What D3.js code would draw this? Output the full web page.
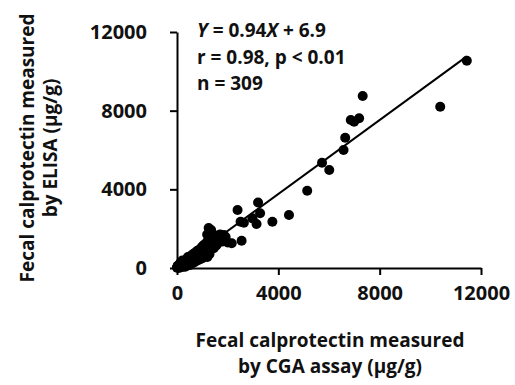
<!DOCTYPE html>
<html>
<head>
<meta charset="utf-8">
<script src="https://cdn.jsdelivr.net/npm/d3@7"></script>
<style>
  body { margin: 0; background: #fff; }
  text { font-family: "Open Sans", Lato, sans-serif; font-weight: bold; fill: #111; }
</style>
</head>
<body>
<svg width="515" height="385"></svg>
<script>
// CGA assay (x) and ELISA (y), ug/g
const cgaValues = [
  0, 15, 25, 40, 50, 60, 75, 85, 95, 110,
  120, 130, 145, 155, 165, 180, 190, 200, 215, 225,
  240, 250, 265, 275, 290, 300, 310, 325, 335, 350,
  360, 375, 385, 400, 410, 425, 435, 450, 460, 475,
  490, 500, 515, 525, 540, 550, 565, 575, 590, 600,
  615, 625, 640, 650, 665, 680, 690, 705, 715, 730,
  740, 755, 770, 780, 795, 810, 820, 835, 850, 860,
  875, 890, 900, 915, 930, 940, 955, 970, 980, 995,
  1010, 1020, 1035, 1050, 1060, 1075, 1090, 1100, 1115, 1130,
  1140, 1155, 1170, 1180, 1195, 1210, 1220, 1235, 1250, 1260,
  1275, 1290, 1300, 1320, 1335, 1350, 1365, 1380, 1400, 1415,
  1430, 1450, 1470, 1490, 1510, 1530, 1550, 1575, 1600, 1625,
  1650, 1680, 1700, 1730, 1760, 1790, 1820, 1850, 1880, 1920,
  30, 80, 140, 210, 280, 350, 430, 520, 610, 700,
  790, 880, 960, 1050, 1120, 1200, 1280, 1346, 1250, 1190,
  1000, 1150, 1320, 1450, 1600, 1720, 860, 660, 480, 1800,
  2000, 2160, 2550, 2510, 2390, 2640, 2980, 3140, 3280, 3200,
  3765, 4420, 5140, 5725, 6010, 6575, 6640, 6860, 6990, 7190,
  7330, 10390, 11440
];
const elisaValues = [
  20, 60, 10, 90, 30, 140, 50, 110, 20, 170,
  60, 200, 100, 40, 230, 130, 260, 70, 190, 300,
  110, 250, 340, 160, 60, 290, 210, 380, 120, 320,
  420, 240, 150, 380, 470, 280, 200, 440, 520, 330,
  240, 560, 410, 300, 500, 620, 370, 250, 560, 460,
  660, 350, 540, 720, 430, 620, 300, 700, 520, 780,
  410, 640, 840, 560, 720, 380, 880, 650, 780, 500,
  920, 700, 860, 450, 990, 760, 600, 900, 1050, 680,
  950, 1120, 550, 850, 1000, 1180, 720, 1060, 900, 1250,
  620, 1100, 960, 1300, 780, 1150, 1380, 1020, 1250, 880,
  1420, 1100, 1300, 1500, 950, 1200, 1400, 1560, 1150, 1320,
  1600, 1000, 1450, 1250, 1580, 1380, 1150, 1500, 1650, 1300,
  1560, 1420, 1700, 1550, 1380, 1620, 1500, 1680, 1450, 1580,
  110, 20, 280, 380, 200, 80, 560, 150, 250, 330,
  520, 560, 800, 700, 800, 560, 700, 1930, 2030, 1700,
  500, 700, 900, 1100, 1250, 1450, 580, 420, 260, 1350,
  1300, 1254, 1390, 2356, 2950, 2300, 2525, 2240, 2780, 3330,
  2356, 2695, 3930, 5355, 4980, 6000, 6625, 7525, 7440, 7610,
  8745, 8200, 10540
];
const tickValues = [0, 4000, 8000, 12000];
const slope = 0.94;
const intercept = 6.9;
const lineEnd = 11440;

const svg = d3.select('svg');

const xScale = d3.scaleLinear().domain([0, 12000]).range([177, 481]);
const yScale = d3.scaleLinear().domain([0, 12000]).range([268, 32]);

const points = cgaValues.map((x, i) => ({ x, y: elisaValues[i] }));

// regression line
svg.append('line')
  .attr('x1', xScale(0))
  .attr('y1', yScale(intercept))
  .attr('x2', xScale(lineEnd))
  .attr('y2', yScale(slope * lineEnd + intercept))
  .attr('stroke', '#000')
  .attr('stroke-width', 2);

svg.append('g')
  .selectAll('circle').data(points)
  .enter().append('circle')
    .attr('cx', d => xScale(d.x))
    .attr('cy', d => yScale(d.y))
    .attr('r', 5)
    .attr('fill', '#000');

const xAxis = d3.axisBottom(xScale)
  .tickValues(tickValues)
  .tickFormat(d3.format('d'))
  .tickSize(7)
  .tickSizeOuter(0)
  .tickPadding(11);

const yAxis = d3.axisLeft(yScale)
  .tickValues(tickValues)
  .tickFormat(d3.format('d'))
  .tickSize(7)
  .tickSizeOuter(0)
  .tickPadding(23);

const xAxisG = svg.append('g')
  .attr('transform', `translate(0,${yScale(0)})`)
  .call(xAxis);

const yAxisG = svg.append('g')
  .attr('transform', `translate(${xScale(0)},0)`)
  .call(yAxis);

[xAxisG, yAxisG].forEach(g => {
  g.selectAll('path, line').attr('stroke', '#000').attr('stroke-width', 2);
  g.selectAll('text')
    .attr('font-family', '"Open Sans", sans-serif')
    .attr('font-weight', 'bold')
    .attr('font-size', 20)
    .attr('fill', '#111');
});

// equation
const eq = svg.append('g').attr('font-size', 19);
const l1 = eq.append('text').attr('x', 197).attr('y', 37);
l1.append('tspan').attr('font-style', 'italic').text('Y');
l1.append('tspan').text(' = 0.94');
l1.append('tspan').attr('font-style', 'italic').text('X');
l1.append('tspan').text(' + 6.9');
eq.append('text').attr('x', 197).attr('y', 63.5).text('r = 0.98, p < 0.01');
eq.append('text').attr('x', 197).attr('y', 90).text('n = 309');

// axis titles
const xTitle = svg.append('text')
  .attr('text-anchor', 'middle')
  .attr('font-size', 19);
xTitle.append('tspan').attr('x', 330).attr('y', 347).text('Fecal calprotectin measured');
xTitle.append('tspan').attr('x', 330).attr('y', 373).text('by CGA assay (µg/g)');

const yTitle = svg.append('text')
  .attr('text-anchor', 'middle')
  .attr('font-size', 19)
  .attr('transform', 'rotate(-90)');
yTitle.append('tspan').attr('x', -148).attr('y', 34).text('Fecal calprotectin measured');
yTitle.append('tspan').attr('x', -148).attr('y', 57).text('by ELISA (µg/g)');
</script>
</body>
</html>
